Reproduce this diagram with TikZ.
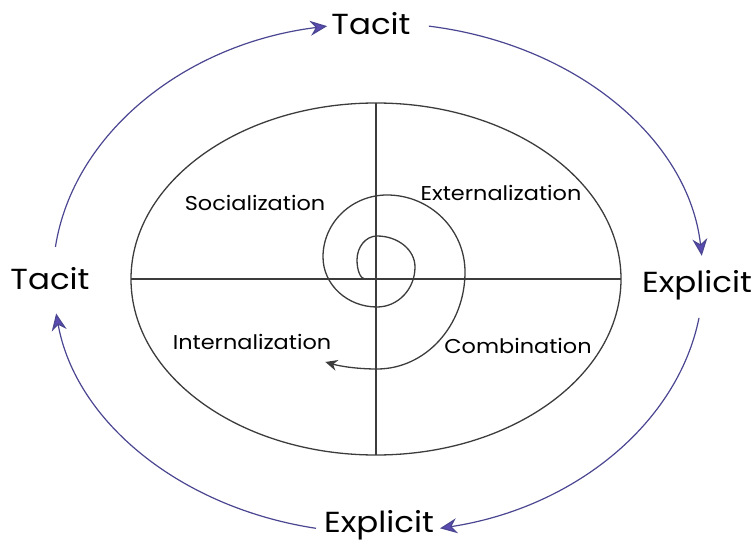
\documentclass[tikz,border=0pt]{standalone}
\usepackage{fontspec}
\setmainfont{Poppins}[FakeStretch=1.12]
\usetikzlibrary{arrows.meta}
\definecolor{cyclepurple}{HTML}{4B4691}
\definecolor{cyclehead}{HTML}{5A4BB2}
\definecolor{linegray}{HTML}{3C3C3C}

\begin{document}
\begin{tikzpicture}[x=1pt,y=1pt,
  quadline/.style={linegray, line width=1.3pt},
  cyclearc/.style={cyclepurple, line width=1.2pt, -{Stealth[length=17pt,width=15pt,fill=cyclehead]}},
  outerlab/.style={font=\fontsize{29}{31}\selectfont, anchor=base},
  modelab/.style={font=\fontsize{20}{22}\selectfont, anchor=base}]
  \useasboundingbox (0,0) rectangle (755,542);
  % units are pixels of the 755x542 frame, y upwards
  \def\IA{245}   % inner ellipse, half width
  \def\IB{176}   % inner ellipse, half height
  \def\OA{325}   % outer ring, half width
  \def\OB{255}   % outer ring, half height
  % inner ellipse and its four quadrants
  \coordinate (mid) at (376,263);
  \draw[quadline] (mid) ellipse[x radius=\IA, y radius=\IB];
  \draw[quadline] ([xshift=-\IA pt]mid) -- ([xshift=\IA pt]mid);
  \draw[quadline] ([yshift=\IB pt]mid) -- ([yshift=-\IB pt]mid);
  % outer labels
  \node[outerlab] (tacitT) at (371,507) {Tacit};
  \node[outerlab] (explR) at (697,250) {Explicit};
  \node[outerlab] (tacitL) at (50,253) {Tacit};
  \node[outerlab] (explB) at (379,10) {Explicit};
  % mode labels
  \node[modelab] (soc) at (255,332) {Socialization};
  \node[modelab] (ext) at (501,342) {Externalization};
  \node[modelab] (int) at (252,193) {Internalization};
  \node[modelab] (comb) at (518,189) {Combination};
  % outer ring, cut into four arcs
  \coordinate (ring) at (378,264);
  \foreach \sa/\ea in {173/99, 81/5, -9/-79, -101/-172}{
     \draw[cyclearc] (ring) ++(\sa:\OA pt and \OB pt)
        arc[start angle=\sa, end angle=\ea, x radius=\OA, y radius=\OB];}
  % spiral, quarter arcs growing outwards (clockwise)
  \coordinate (curl) at (365,263);
  \draw[quadline, -{Stealth[length=12pt,width=11pt]}] (curl)
     arc[start angle=270, end angle=180, x radius=8,  y radius=19]
     arc[start angle=180, end angle=90,  x radius=20, y radius=24]
     arc[start angle=90,  end angle=0,   x radius=38, y radius=31]
     arc[start angle=0,   end angle=-90, x radius=38, y radius=40]
     arc[start angle=-90, end angle=-180,x radius=54, y radius=50]
     arc[start angle=180, end angle=90,  x radius=64, y radius=62]
     arc[start angle=90,  end angle=0,   x radius=78, y radius=77]
     arc[start angle=0,   end angle=-90, x radius=88, y radius=97]
     arc[start angle=-90, end angle=-118,x radius=110,y radius=60];
\end{tikzpicture}
\end{document}
